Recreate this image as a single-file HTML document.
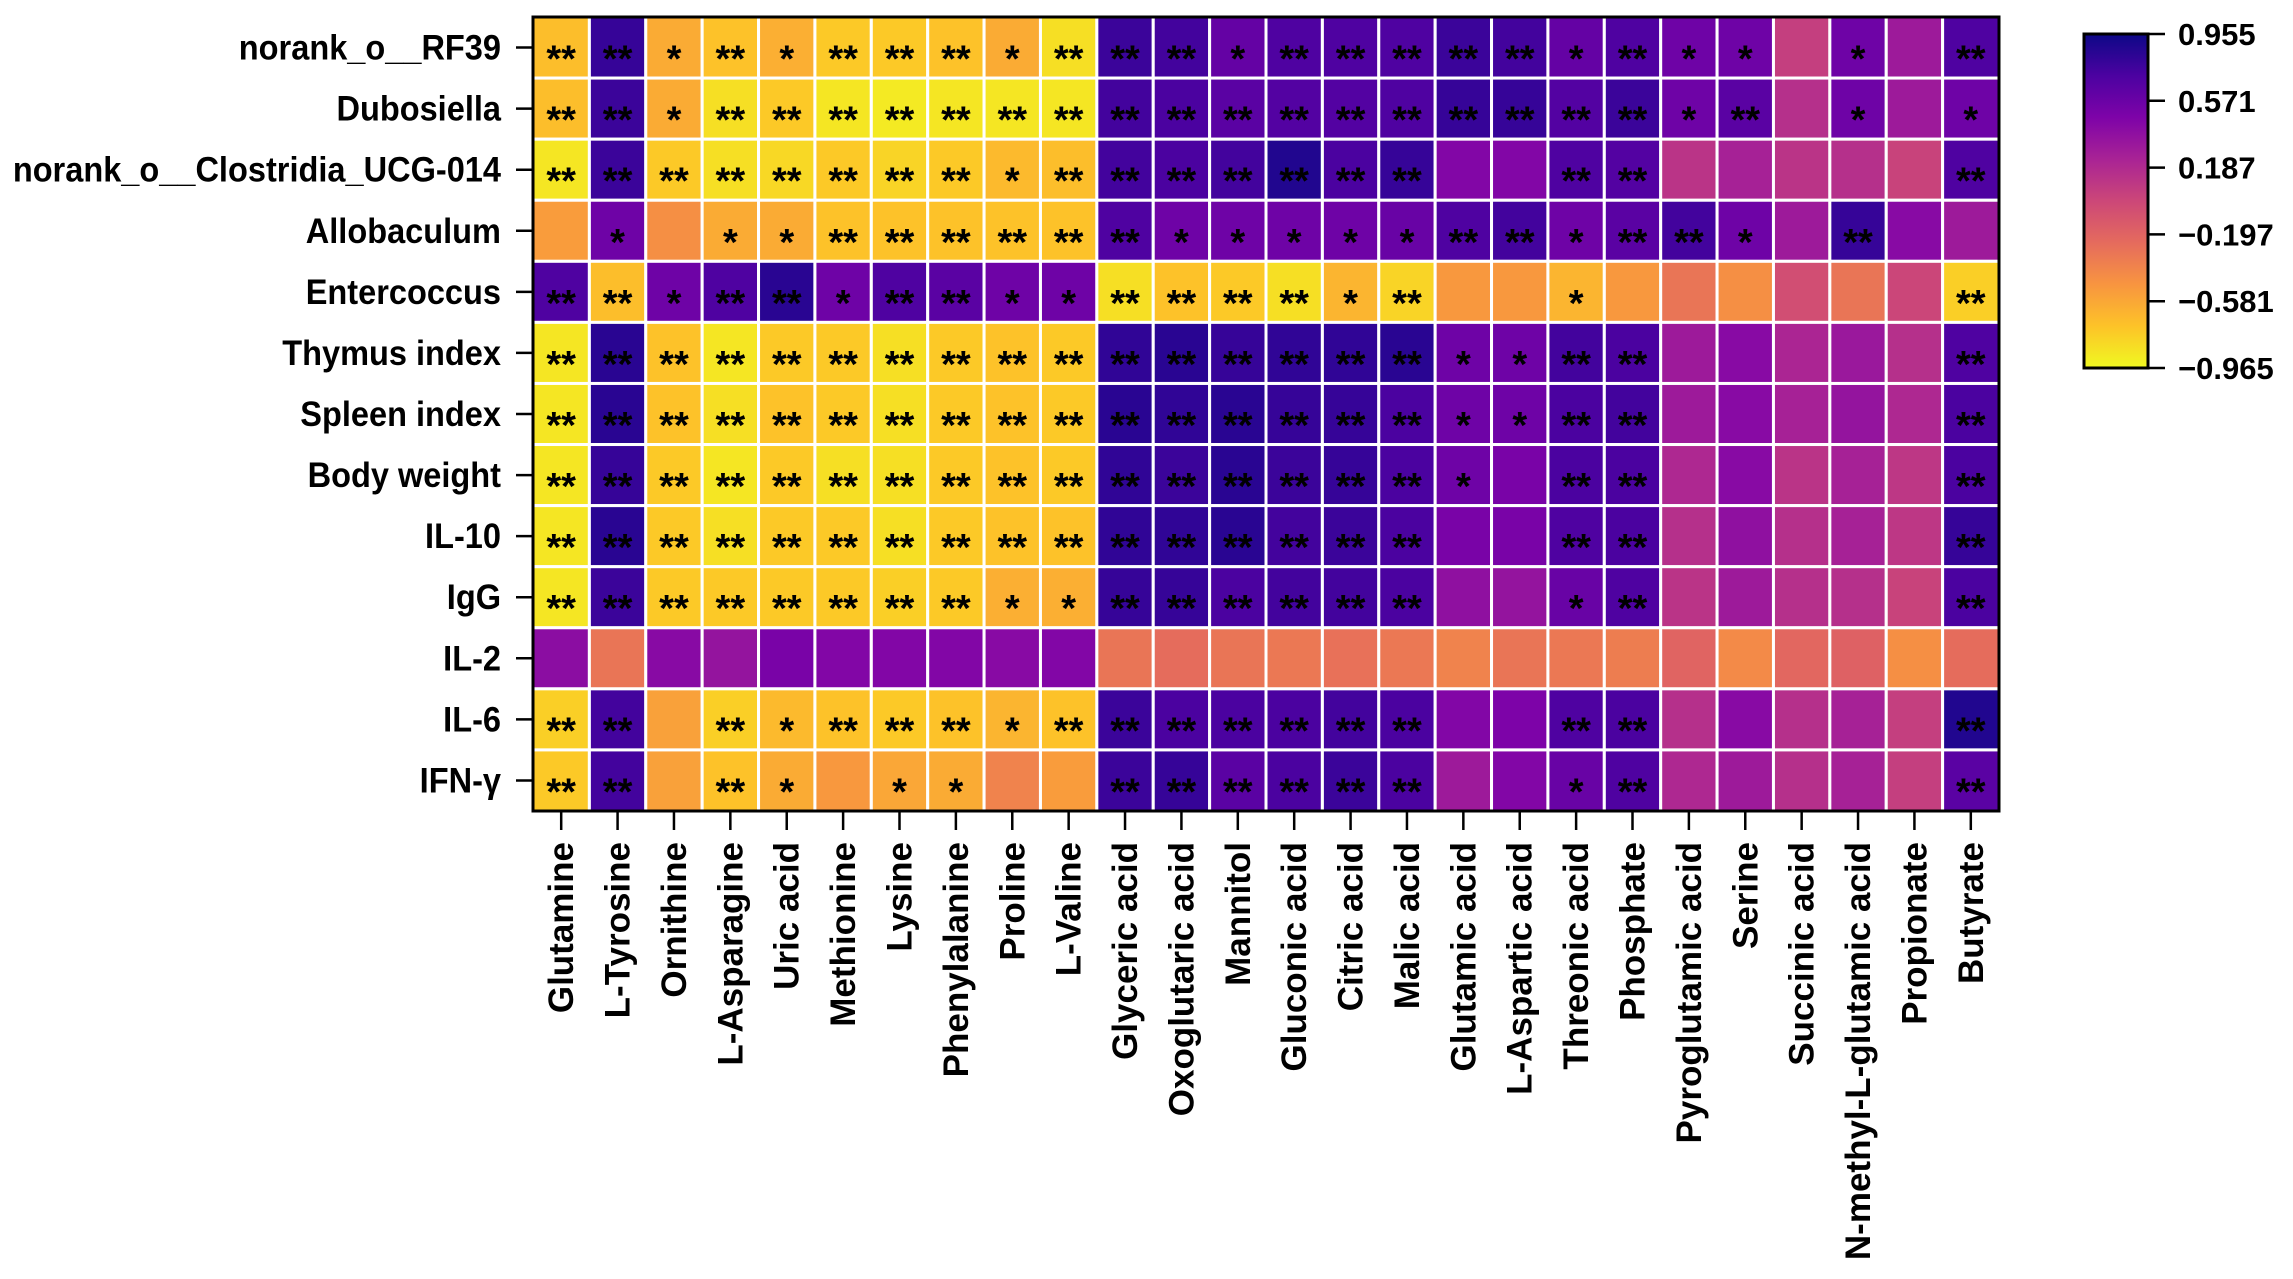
<!DOCTYPE html>
<html><head><meta charset="utf-8">
<style>
html,body{margin:0;padding:0;background:#fff;}
svg{display:block;}
text{font-family:"Liberation Sans",Arial,sans-serif;font-weight:bold;fill:#000;}
</style></head>
<body>
<svg id="chart" width="2293" height="1279" viewBox="0 0 2293 1279" xmlns="http://www.w3.org/2000/svg">
<defs>
<linearGradient id="plasma" x1="0" y1="1" x2="0" y2="0">
<stop offset="0" stop-color="#f0f921"/><stop offset="0.125" stop-color="#fdc328"/>
<stop offset="0.25" stop-color="#f89540"/><stop offset="0.375" stop-color="#e56b5d"/>
<stop offset="0.5" stop-color="#cc4778"/><stop offset="0.625" stop-color="#a92395"/>
<stop offset="0.75" stop-color="#7e03a8"/><stop offset="0.875" stop-color="#4c02a1"/>
<stop offset="1" stop-color="#0d0887"/>
</linearGradient>
</defs>
<g id="cells"></g>
<g id="stars"></g>
<rect x="533" y="17" width="1466" height="794" fill="none" stroke="#000" stroke-width="3"/>
<g id="rowlabels"></g>
<g id="collabels"></g>
<g>
<rect x="2084" y="34" width="64" height="334" fill="url(#plasma)" stroke="#000" stroke-width="3"/>
<g id="cbticks"></g>
</g>
</svg>
<script>
const rows = ["norank_o__RF39","Dubosiella","norank_o__Clostridia_UCG-014","Allobaculum","Entercoccus","Thymus index","Spleen index","Body weight","IL-10","IgG","IL-2","IL-6","IFN-γ"];
const cols = ["Glutamine","L-Tyrosine","Ornithine","L-Asparagine","Uric acid","Methionine","Lysine","Phenylalanine","Proline","L-Valine","Glyceric acid","Oxoglutaric acid","Mannitol","Gluconic acid","Citric acid","Malic acid","Glutamic acid","L-Aspartic acid","Threonic acid","Phosphate","Pyroglutamic acid","Serine","Succinic acid","N-methyl-L-glutamic acid","Propionate","Butyrate"];
const values = [
[-0.7,0.8,-0.6,-0.72,-0.62,-0.75,-0.75,-0.72,-0.6,-0.85, 0.78,0.75,0.6,0.7,0.7,0.7,0.78,0.75,0.6,0.7,0.55,0.55,0.05,0.55,0.3,0.7],
[-0.7,0.78,-0.6,-0.85,-0.75,-0.88,-0.9,-0.88,-0.88,-0.88, 0.75,0.72,0.65,0.68,0.68,0.7,0.8,0.8,0.68,0.78,0.55,0.65,0.15,0.55,0.3,0.55],
[-0.88,0.78,-0.75,-0.85,-0.82,-0.75,-0.8,-0.75,-0.68,-0.7, 0.75,0.72,0.75,0.88,0.72,0.8,0.45,0.45,0.7,0.68,0.12,0.25,0.12,0.15,0.02,0.7],
[-0.52,0.55,-0.45,-0.6,-0.6,-0.72,-0.72,-0.72,-0.72,-0.72, 0.7,0.55,0.55,0.55,0.55,0.58,0.7,0.75,0.55,0.65,0.75,0.55,0.3,0.8,0.42,0.3],
[0.7,-0.7,0.55,0.7,0.85,0.55,0.7,0.65,0.55,0.55, -0.85,-0.72,-0.75,-0.85,-0.65,-0.8,-0.5,-0.5,-0.65,-0.5,-0.3,-0.45,-0.05,-0.3,0.0,-0.78],
[-0.88,0.85,-0.72,-0.88,-0.75,-0.75,-0.85,-0.75,-0.72,-0.75, 0.82,0.85,0.8,0.82,0.82,0.85,0.55,0.55,0.75,0.72,0.3,0.42,0.22,0.32,0.15,0.7],
[-0.88,0.85,-0.72,-0.85,-0.72,-0.75,-0.85,-0.75,-0.72,-0.75, 0.85,0.82,0.85,0.8,0.8,0.72,0.55,0.55,0.72,0.75,0.3,0.42,0.25,0.35,0.2,0.72],
[-0.88,0.8,-0.75,-0.88,-0.75,-0.85,-0.85,-0.75,-0.72,-0.75, 0.82,0.78,0.85,0.78,0.8,0.72,0.55,0.5,0.72,0.72,0.2,0.42,0.12,0.25,0.1,0.72],
[-0.88,0.85,-0.75,-0.85,-0.75,-0.75,-0.85,-0.75,-0.72,-0.72, 0.82,0.82,0.85,0.75,0.78,0.72,0.5,0.5,0.7,0.72,0.15,0.38,0.15,0.25,0.1,0.8],
[-0.88,0.78,-0.75,-0.75,-0.75,-0.75,-0.78,-0.75,-0.62,-0.62, 0.8,0.8,0.72,0.75,0.75,0.72,0.38,0.35,0.58,0.7,0.12,0.3,0.15,0.15,0.02,0.72],
[0.4,-0.3,0.42,0.35,0.5,0.45,0.45,0.45,0.42,0.45, -0.3,-0.25,-0.3,-0.32,-0.28,-0.32,-0.38,-0.3,-0.32,-0.35,-0.2,-0.42,-0.22,-0.18,-0.45,-0.25],
[-0.78,0.75,-0.55,-0.78,-0.68,-0.72,-0.75,-0.72,-0.65,-0.72, 0.78,0.72,0.72,0.72,0.75,0.72,0.45,0.48,0.7,0.72,0.15,0.42,0.15,0.25,0.05,0.88],
[-0.75,0.75,-0.55,-0.72,-0.6,-0.5,-0.58,-0.6,-0.38,-0.52, 0.78,0.8,0.65,0.72,0.78,0.72,0.3,0.45,0.58,0.7,0.2,0.3,0.15,0.25,0.05,0.65]
];
const signif = [
["**","**","*","**","*","**","**","**","*","**","**","**","*","**","**","**","**","**","*","**","*","*","","*","","**"],
["**","**","*","**","**","**","**","**","**","**","**","**","**","**","**","**","**","**","**","**","*","**","","*","","*"],
["**","**","**","**","**","**","**","**","*","**","**","**","**","**","**","**","","","**","**","","","","","","**"],
["","*","","*","*","**","**","**","**","**","**","*","*","*","*","*","**","**","*","**","**","*","","**","",""],
["**","**","*","**","**","*","**","**","*","*","**","**","**","**","*","**","","","*","","","","","","","**"],
["**","**","**","**","**","**","**","**","**","**","**","**","**","**","**","**","*","*","**","**","","","","","","**"],
["**","**","**","**","**","**","**","**","**","**","**","**","**","**","**","**","*","*","**","**","","","","","","**"],
["**","**","**","**","**","**","**","**","**","**","**","**","**","**","**","**","*","","**","**","","","","","","**"],
["**","**","**","**","**","**","**","**","**","**","**","**","**","**","**","**","","","**","**","","","","","","**"],
["**","**","**","**","**","**","**","**","*","*","**","**","**","**","**","**","","","*","**","","","","","","**"],
["","","","","","","","","","","","","","","","","","","","","","","","","",""],
["**","**","","**","*","**","**","**","*","**","**","**","**","**","**","**","","","**","**","","","","","","**"],
["**","**","","**","*","","*","*","","","**","**","**","**","**","**","","","*","**","","","","","","**"]
];
const cbTicks = [0.955,0.571,0.187,-0.197,-0.581,-0.965];
const vMin = -0.965, vMax = 0.955;

const NS = "http://www.w3.org/2000/svg";
const X0 = 533, X1 = 1999, Y0 = 17, Y1 = 811;
const cw = (X1 - X0) / cols.length, rh = (Y1 - Y0) / rows.length;
const xPos = i => X0 + i * cw;
const yPos = j => Y0 + j * rh;
const plasmaStops = [[13,8,135],[76,2,161],[126,3,168],[169,35,149],[204,71,120],[229,107,93],[248,149,64],[253,195,40],[240,249,33]];
function colorOf(v){
  let t = (vMax - v) / (vMax - vMin); t = Math.max(0, Math.min(1, t));
  const p = t * (plasmaStops.length - 1), i = Math.min(Math.floor(p), plasmaStops.length - 2), f = p - i;
  const a = plasmaStops[i], b = plasmaStops[i + 1];
  return "rgb(" + a.map((c, k) => Math.round(c + (b[k] - c) * f)).join(",") + ")";
}
const cbY = v => 34 + (vMax - v) / (vMax - vMin) * 334;
function mk(tag, attrs, parent, txt){
  const el = document.createElementNS(NS, tag);
  for (const k in attrs) el.setAttribute(k, attrs[k]);
  if (txt !== undefined) el.textContent = txt;
  parent.appendChild(el);
  return el;
}
const gCells = document.getElementById("cells"), gStars = document.getElementById("stars");
const gRow = document.getElementById("rowlabels"), gCol = document.getElementById("collabels");
const gCb = document.getElementById("cbticks");
values.forEach((row, j) => row.forEach((v, i) => {
  const r = mk("rect", {x: xPos(i), y: yPos(j), width: cw, height: rh, fill: colorOf(v), stroke: "#fff", "stroke-width": 3}, gCells);
  
  
  const s = signif[j][i];
  if (s) {
    const t = mk("text", {x: xPos(i) + cw / 2, y: yPos(j) + rh / 2 + 24, "text-anchor": "middle", "font-size": 38}, gStars, s);
    
    
  }
}));
rows.forEach((name, j) => {
  const cy = yPos(j) + rh / 2;
  const tk = mk("line", {x1: 516, x2: 533, y1: cy, y2: cy, stroke: "#000", "stroke-width": 2.5}, gRow);
  
  
  const t = mk("text", {x: 0, y: 0, "text-anchor": "end", "font-size": 35, transform: "translate(501," + (cy + 12) + ") scale(0.93,1)"}, gRow, name);
  
  
});
cols.forEach((name, i) => {
  const cx = xPos(i) + cw / 2;
  const tk = mk("line", {x1: cx, x2: cx, y1: 811, y2: 830, stroke: "#000", "stroke-width": 2.5}, gCol);
  
  
  const t = mk("text", {x: 0, y: 0, "text-anchor": "end", "font-size": 35, transform: "translate(" + (cx + 12) + ",842) rotate(-90)"}, gCol, name);
  
  
});
cbTicks.forEach(v => {
  const y = cbY(v);
  const tk = mk("line", {x1: 2148, x2: 2165, y1: y, y2: y, stroke: "#000", "stroke-width": 2.5}, gCb);
  
  
  const t = mk("text", {x: 2178, y: y + 11, "font-size": 31}, gCb, (v < 0 ? "\u2212" : "") + Math.abs(v).toFixed(3));
  
  
});
</script>
</body></html>
